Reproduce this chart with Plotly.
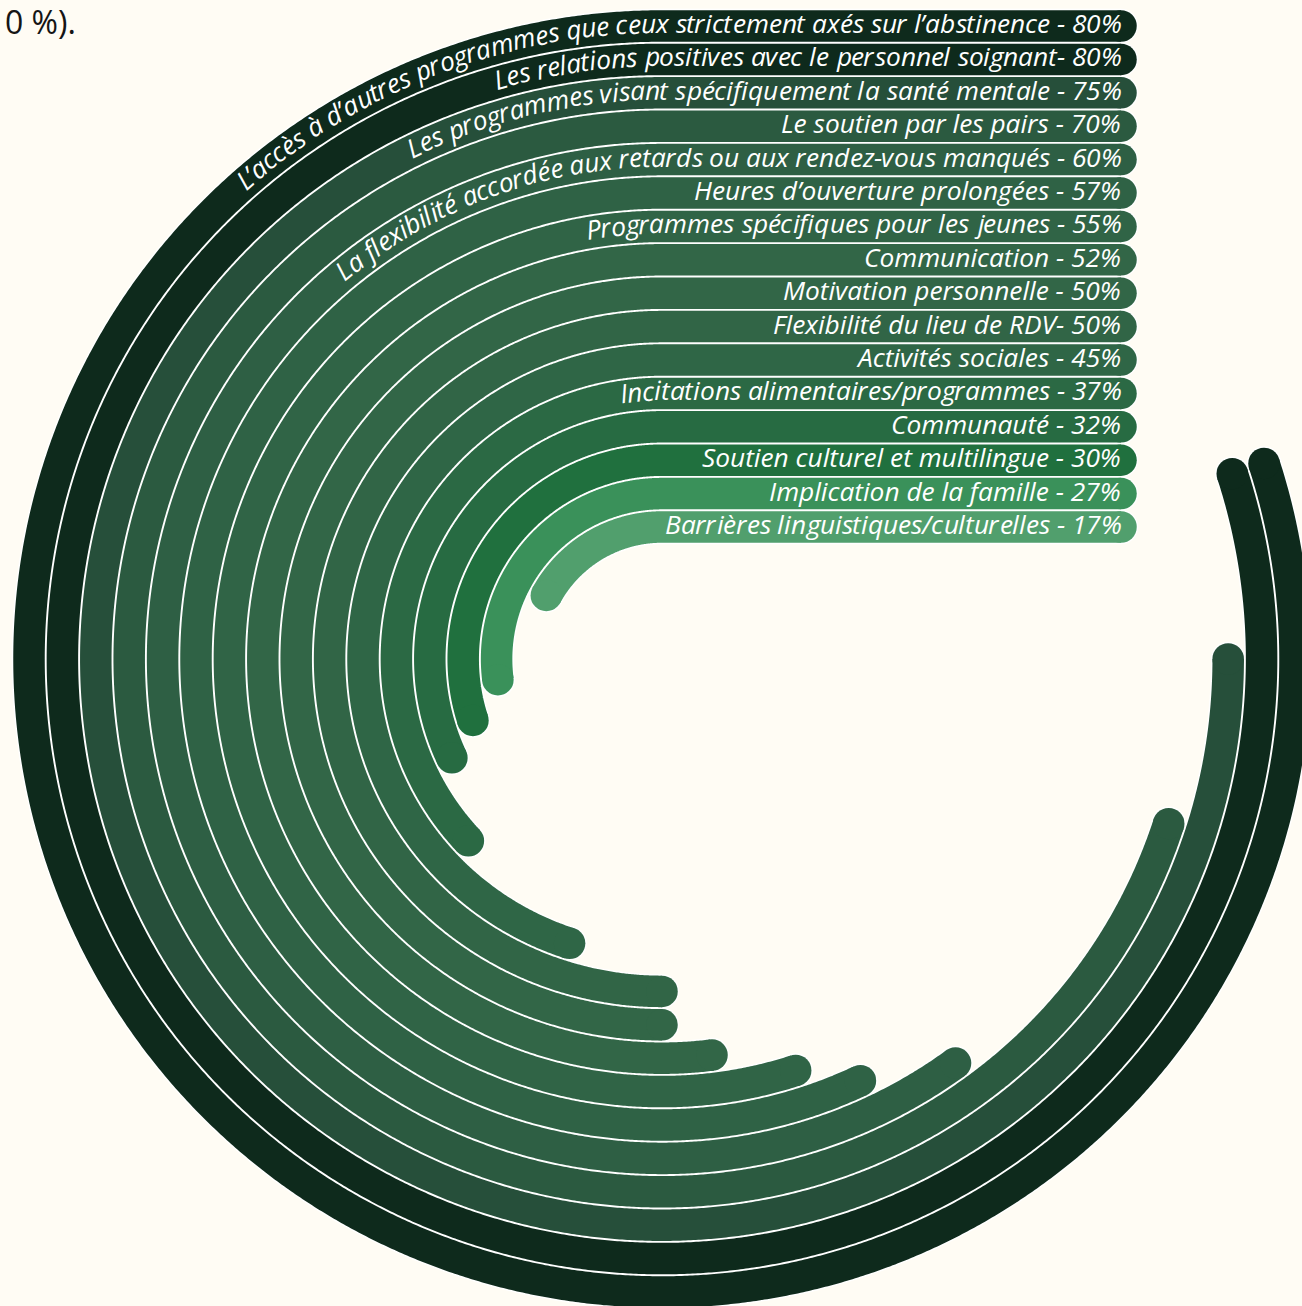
import os
import re
import math
import struct
import plotly.graph_objects as go

# ---------------- data ----------------
labels = [
    "L’accès à d’autres programmes que ceux strictement axés sur l’abstinence - 80%",
    "Les relations positives avec le personnel soignant- 80%",
    "Les programmes visant spécifiquement la santé mentale - 75%",
    "Le soutien par les pairs - 70%",
    "La flexibilité accordée aux retards ou aux rendez-vous manqués - 60%",
    "Heures d’ouverture prolongées - 57%",
    "Programmes spécifiques pour les jeunes - 55%",
    "Communication - 52%",
    "Motivation personnelle - 50%",
    "Flexibilité du lieu de RDV- 50%",
    "Activités sociales - 45%",
    "Incitations alimentaires/programmes - 37%",
    "Communauté - 32%",
    "Soutien culturel et multilingue - 30%",
    "Implication de la famille - 27%",
    "Barrières linguistiques/culturelles - 17%",
]
values = [80, 80, 75, 70, 60, 57, 55, 52, 50, 50, 45, 37, 32, 30, 27, 17]
colors = [
    "#0e2a1c", "#0e2a1c", "#264f3a", "#2b5a40", "#2e5f44", "#2f6245",
    "#306446", "#326647", "#326647", "#316546", "#2f6646", "#2b6944",
    "#276b42", "#20703e", "#3a915a", "#519f6d",
]
corner_text = "0 %)."

# ---------------- layout constants ----------------
W, H = 1302, 1306
CX, CY = 662.0, 647.0          # centre of the rings (data units = px, y up)
R0 = 633.0                     # radius of outer ring centre line
STEP = 33.4                    # ring spacing
DEG_PER_PCT = 3.6              # 100 % = full turn
X_END = 1121.0                 # right cap centre
X_TEXT_END = 1122.0
BAR_W = 31.5
OUT_W = 34.5
LIFT = 3.0
BG = "#fffcf4"
FONT = "Open Sans"
REF_LABEL_WIDTH = 339.0        # width of "Le soutien par les pairs - 70%" in px


# ---------------- font metrics (for text along the arcs) ----------------
def _fallback_width():
    tbl = {
        'a': .54, 'b': .58, 'c': .47, 'd': .58, 'e': .53, 'f': .32, 'g': .52,
        'h': .60, 'i': .26, 'j': .26, 'k': .52, 'l': .26, 'm': .89, 'n': .60,
        'o': .57, 'p': .58, 'q': .58, 'r': .40, 's': .44, 't': .34, 'u': .60,
        'v': .49, 'w': .76, 'x': .49, 'y': .49, 'z': .44, ' ': .26, '-': .32,
        '%': .82, '’': .22, "'": .22, '/': .37, 'L': .50, 'P': .58, 'H': .71,
        'C': .61, 'M': .87, 'F': .50, 'I': .28, 'R': .60, 'D': .70, 'V': .57,
        'S': .53, 'B': .61, 'A': .61,
    }
    base = {'à': 'a', 'é': 'e', 'è': 'e', 'ê': 'e'}

    def width(ch):
        if ch.isdigit():
            return .57
        return tbl.get(base.get(ch, ch), .54)
    return width


def _load_ttf(path):
    with open(path, 'rb') as f:
        data = f.read()
    num = struct.unpack('>H', data[4:6])[0]
    tables = {}
    for t in range(num):
        rec = data[12 + 16 * t: 28 + 16 * t]
        tables[rec[:4].decode('latin1')] = struct.unpack('>I', rec[8:12])[0]
    upm = struct.unpack('>H', data[tables['head'] + 18: tables['head'] + 20])[0]
    nhm = struct.unpack('>H', data[tables['hhea'] + 34: tables['hhea'] + 36])[0]
    hm = tables['hmtx']
    adv = [struct.unpack('>H', data[hm + 4 * g: hm + 4 * g + 2])[0] for g in range(nhm)]
    cm = tables['cmap']
    n = struct.unpack('>H', data[cm + 2: cm + 4])[0]
    sub = None
    for e in range(n):
        pid, eid, off = struct.unpack('>HHI', data[cm + 4 + 8 * e: cm + 12 + 8 * e])
        fmt = struct.unpack('>H', data[cm + off: cm + off + 2])[0]
        if pid in (0, 3) and fmt == 4 and sub is None:
            sub = cm + off
    seg2 = struct.unpack('>H', data[sub + 6: sub + 8])[0]
    seg = seg2 // 2
    ends = struct.unpack('>%dH' % seg, data[sub + 14: sub + 14 + seg2])
    so = sub + 16 + seg2
    starts = struct.unpack('>%dH' % seg, data[so: so + seg2])
    do = so + seg2
    deltas = struct.unpack('>%dH' % seg, data[do: do + seg2])
    ro = do + seg2
    ros = struct.unpack('>%dH' % seg, data[ro: ro + seg2])

    def gid(c):
        for i in range(seg):
            if ends[i] >= c:
                if starts[i] > c:
                    return 0
                if ros[i] == 0:
                    return (c + deltas[i]) & 0xFFFF
                addr = ro + 2 * i + ros[i] + 2 * (c - starts[i])
                g = struct.unpack('>H', data[addr: addr + 2])[0]
                return (g + deltas[i]) & 0xFFFF if g else 0
        return 0

    def width(ch):
        g = gid(ord(ch))
        a = adv[g] if g < nhm else adv[-1]
        return a / upm
    return width


def get_width_fn():
    cands = []
    bad = ("bold", "semi", "light", "extra", "medium", "condensed", "black", "thin")
    for root in ("/usr/share/fonts", "/usr/local/share/fonts",
                 os.path.expanduser("~/.fonts"), os.path.expanduser("~/.local/share/fonts")):
        if os.path.isdir(root):
            for dp, dn, fn in os.walk(root):
                for f in fn:
                    low = re.sub(r'[^a-z]', '', f.lower())
                    if not f.lower().endswith((".ttf", ".otf")):
                        continue
                    if low.startswith("opensans") and "italic" in low and not any(b in low for b in bad):
                        cands.append(os.path.join(dp, f))
    cands.sort(key=len)
    for p in cands:
        try:
            return _load_ttf(p), True
        except Exception:
            pass
    return _fallback_width(), False


char_w, exact = get_width_fn()
_em = sum(char_w(c) for c in labels[3])
FS = REF_LABEL_WIDTH / _em if exact else 24.5
FS = max(20.0, min(30.0, FS))


def text_w(s):
    return sum(char_w(c) for c in s) * FS


# ---------------- geometry helpers ----------------
def path_point(r, u):
    """Point on bar path, u = distance leftwards from the text end."""
    straight = X_TEXT_END - CX
    yb = CY + r
    if u <= straight:
        return X_TEXT_END - u, yb + LIFT, 0.0
    t = u - straight
    phi = math.pi / 2 + t / r
    rr = r + LIFT
    return CX + rr * math.cos(phi), CY + rr * math.sin(phi), 90.0 - math.degrees(phi)


fig = go.Figure()

radii = [R0 - STEP * i for i in range(len(values))]

# outlines first, then fills
for layer in ("outline", "fill"):
    for i, v in enumerate(values):
        r = radii[i]
        yb = CY + r
        sweep = v * DEG_PER_PCT
        n = max(2, int(sweep / 0.25) + 1)
        xs = [X_END, CX]
        ys = [yb, yb]
        for k in range(1, n + 1):
            a = math.radians(90.0 + sweep * k / n)
            xs.append(CX + r * math.cos(a))
            ys.append(CY + r * math.sin(a))
        col = "#ffffff" if layer == "outline" else colors[i]
        wid = OUT_W if layer == "outline" else BAR_W
        fig.add_trace(go.Scatter(
            x=xs, y=ys, mode="lines",
            line=dict(color=col, width=wid, simplify=False),
            hoverinfo="skip", showlegend=False))
        fig.add_trace(go.Scatter(
            x=[xs[0], xs[-1]], y=[ys[0], ys[-1]], mode="markers",
            marker=dict(color=col, size=wid, line=dict(width=0)),
            hoverinfo="skip", showlegend=False))

annotations = []
tfont = dict(family=FONT, size=FS, color="#ffffff", style="italic")
for i, lab in enumerate(labels):
    r = radii[i]
    tw = text_w(lab)
    if tw <= X_TEXT_END - CX - 4:
        annotations.append(dict(
            x=X_TEXT_END, y=CY + r + LIFT, xref="x", yref="y", text=lab,
            showarrow=False, xanchor="right", yanchor="middle", font=tfont,
            borderpad=0))
    else:
        acc = 0.0
        for ch in reversed(lab):
            w = char_w(ch) * FS
            u = acc + w / 2
            acc += w
            if ch == " ":
                continue
            px, py, ang = path_point(r, u)
            annotations.append(dict(
                x=px, y=py, xref="x", yref="y", text=ch, showarrow=False,
                xanchor="center", yanchor="middle", textangle=ang,
                font=tfont, borderpad=0))

annotations.append(dict(
    x=77 / W, y=1 - 21 / H, xref="paper", yref="paper", text=corner_text,
    showarrow=False, xanchor="right", yanchor="middle", borderpad=0,
    font=dict(family=FONT, size=32, color="#151515")))

fig.update_layout(
    width=W, height=H, margin=dict(l=0, r=0, t=0, b=0),
    paper_bgcolor=BG, plot_bgcolor=BG,
    xaxis=dict(range=[0, W], visible=False, fixedrange=True),
    yaxis=dict(range=[0, H], visible=False, fixedrange=True),
    annotations=annotations, showlegend=False,
)

fig.write_html("out.html")
